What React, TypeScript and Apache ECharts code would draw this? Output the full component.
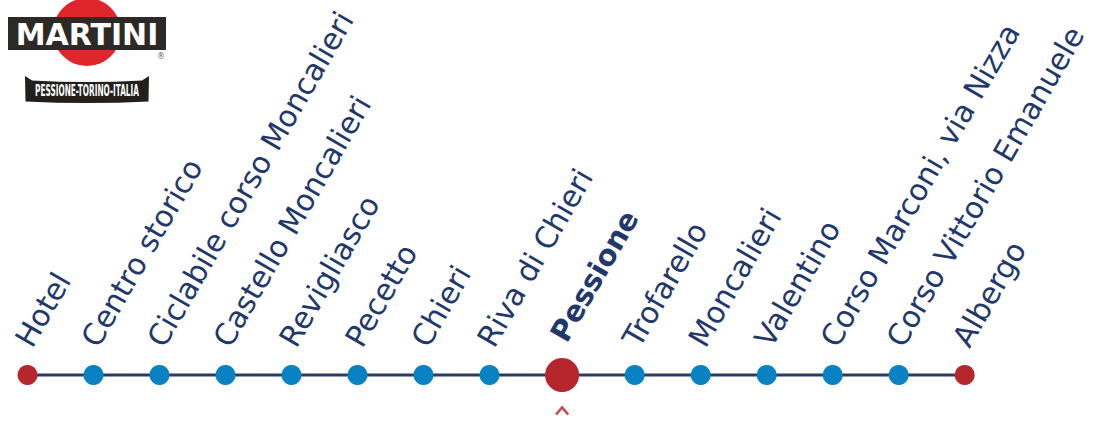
import React, { useEffect, useRef } from "react";
import * as echarts from "echarts";

// ---- data ----
const stopNames: string[] = [
  "Hotel",
  "Centro storico",
  "Ciclabile corso Moncalieri",
  "Castello Moncalieri",
  "Revigliasco",
  "Pecetto",
  "Chieri",
  "Riva di Chieri",
  "Pessione",
  "Trofarello",
  "Moncalieri",
  "Valentino",
  "Corso Marconi, via Nizza",
  "Corso Vittorio Emanuele",
  "Albergo",
];
// position of each stop along the route (route units)
const stopPositions: number[] = [0, 1, 2, 3, 4, 5, 6, 7, 8.1, 9.2, 10.2, 11.2, 12.2, 13.2, 14.2];
// kind of each stop: endpoint, regular stop or main destination
const stopKinds: string[] = [
  "end", "stop", "stop", "stop", "stop", "stop", "stop", "stop",
  "main", "stop", "stop", "stop", "stop", "stop", "end",
];
const routeMin = 0;
const routeMax = 14.2;
const logoWord = "MARTINI";
const logoMotto = "PESSIONE-TORINO-ITALIA";

echarts.graphic.registerShape(
  "ribbon",
  echarts.graphic.extendPath(
    "M25,76 L32,80.5 Q87,83.5 142,80.5 L149,76 L148.5,101.5 Q87,104.5 25.5,101.5 Z",
    {}
  )
);

const NAVY = "#22386a";
const BLUE = "#0882c2";
const RED = "#b5272d";

export default function App() {
  const ref = useRef<HTMLDivElement | null>(null);

  useEffect(() => {
    document.body.style.margin = "0";
    if (!ref.current) return;
    const chart = echarts.init(ref.current, undefined, { renderer: "svg" });

    const data = stopNames.map((name, i) => {
      const kind = stopKinds[i];
      const isMain = kind === "main";
      const size = isMain ? 34 : 20;
      return {
        name,
        value: [stopPositions[i], 0],
        symbolSize: size,
        itemStyle: { color: kind === "stop" ? BLUE : RED },
        label: {
          show: true,
          formatter: name,
          position: isMain ? [size / 2 - 4, size / 2 - 36] : [size / 2 - 4.3, size / 2 - 31],
          rotate: 60,
          align: "left",
          verticalAlign: "middle",
          color: NAVY,
          fontFamily: "DejaVu Sans",
          fontSize: isMain ? 29 : 30,
          fontWeight: isMain ? "bold" : "normal",
        },
      };
    });

    const mainIndex = stopKinds.indexOf("main");

    chart.setOption({
      animation: false,
      grid: { left: 27.5, right: 134.3, top: 0, bottom: 47, containLabel: false },
      xAxis: { type: "value", min: routeMin, max: routeMax, show: false },
      yAxis: { type: "value", min: 0, max: 1, show: false },
      series: [
        {
          type: "line",
          data,
          clip: false,
          symbol: "circle",
          showSymbol: true,
          lineStyle: { color: "#2a3b66", width: 3 },
          emphasis: { disabled: true },
          z: 2,
        },
        {
          type: "scatter",
          data: [[stopPositions[mainIndex], 0]],
          symbol: "path://M0,9 L7,2 L14,9 L12.2,10.8 L7,5.6 L1.8,10.8 Z",
          symbolSize: [14, 10],
          symbolKeepAspect: false,
          symbolOffset: [0, 35.5],
          itemStyle: { color: RED },
          clip: false,
          silent: true,
          z: 1,
        },
      ],
      graphic: [
        { type: "circle", shape: { cx: 87, cy: 32, r: 34 }, style: { fill: "#e0252b" } },
        { type: "rect", shape: { x: 8, y: 17, width: 158, height: 33 }, style: { fill: "#2d2926" } },
        {
          type: "text",
          x: 87,
          y: 34,
          style: {
            text: logoWord,
            fill: "#ffffff",
            font: "bold 30px 'DejaVu Sans'",
            align: "center",
            verticalAlign: "middle",
          },
        },
        {
          type: "text",
          x: 161,
          y: 56,
          style: {
            text: "®",
            fill: "#666666",
            font: "8px 'DejaVu Sans'",
            align: "center",
            verticalAlign: "middle",
          },
        },
        { type: "ribbon", x: 0, y: 0, style: { fill: "#231f1d" } },
        {
          type: "text",
          x: 87,
          y: 91,
          scaleX: 0.49,
          style: {
            text: logoMotto,
            fill: "#ffffff",
            font: "bold 15px 'DejaVu Sans'",
            align: "center",
            verticalAlign: "middle",
          },
        },
      ],
    });

    return () => chart.dispose();
  }, []);

  return <div ref={ref} style={{ width: 1099, height: 422 }} />;
}
